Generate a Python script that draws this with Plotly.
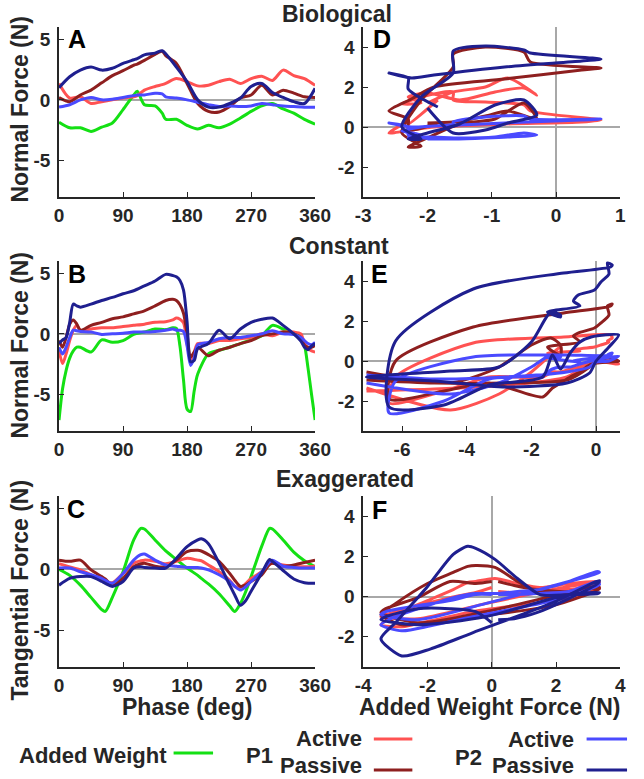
import plotly.graph_objects as go

W, H = 644, 779

# ---------------- Data ----------------
# Panel A (Biological, normal force vs phase)
phase_a = [0, 15, 30, 45, 60, 75, 90, 105, 110, 120, 135, 145, 150, 165, 180, 195, 210, 225, 240, 255, 270, 285, 300, 315, 330, 345, 360]
aw_a = [-1.84, -2.3, -2.3, -2.6, -2.25, -1.9, -0.8, 0.4, 0.7, -0.4, -0.5, -1.1, -1.6, -1.6, -2.1, -2.4, -2.1, -2.3, -2.0, -1.5, -0.95, -0.5, -0.3, -0.75, -1.1, -1.6, -2.0]
p1_act_a = [1.35, 0.15, 0.25, -0.3, -0.15, 0.0, 0.15, 0.25, 0.35, 0.8, 1.1, 1.25, 1.35, 1.75, 1.5, 1.15, 1.2, 1.5, 1.7, 1.35, 1.75, 1.95, 1.6, 2.45, 2.0, 1.75, 1.2]
p1_pas_a = [0.2, -0.15, 0.4, 0.8, 1.4, 2.0, 2.4, 2.85, 2.95, 3.25, 3.75, 4.0, 3.65, 3.0, 1.35, -0.3, -0.95, -1.0, -0.55, 0.15, 0.4, 1.2, 0.4, 0.8, 0.55, 0.25, 0.2]
p2_act_a = [-0.6, -0.4, 0.0, 0.2, 0.0, 0.05, 0.2, 0.35, 0.4, 0.4, 0.55, 0.5, 0.25, 0.15, 0.0, -0.2, -0.4, -0.55, -0.5, -0.55, -0.5, -0.3, -0.4, -0.5, -0.55, -0.6, -0.6]
p2_pas_a = [1.0, 1.9, 2.45, 2.7, 2.45, 2.6, 3.0, 3.3, 3.4, 3.7, 3.85, 4.05, 3.8, 2.7, 1.5, 0.0, -0.6, -0.6, -0.3, 0.15, 1.1, 1.35, 0.6, 0.2, -0.15, -0.3, 0.95]

# Panel B (Constant, normal force vs phase)
phase_b = [0, 5, 10, 15, 20, 25, 30, 45, 60, 75, 90, 105, 120, 135, 150, 160, 165, 170, 175, 180, 185, 190, 195, 210, 225, 240, 255, 270, 285, 300, 315, 330, 340, 345, 350, 355, 360]
aw_b = [-7.1, -4.5, -3.0, -2.0, -1.4, -1.1, -1.1, -1.5, -0.5, -0.7, -0.55, -0.05, 0.15, 0.4, 0.35, 0.5, 0.45, -1.0, -3.8, -6.2, -6.4, -4.7, -3.3, -1.65, -1.35, -1.1, -0.8, -0.5, -0.15, 0.7, 0.4, 0.0, -0.2, -0.9, -2.8, -5.0, -7.1]
p1_act_b = [-1.35, -2.45, -1.65, -0.55, 0.3, 0.7, 0.3, 0.4, 0.5, 0.5, 0.6, 0.7, 0.8, 0.95, 1.0, 1.15, 1.3, 1.2, 0.9, -0.8, -2.1, -1.5, -0.8, -0.8, -0.55, -0.55, -0.4, -0.3, 0.0, -0.15, 0.15, 0.15, 0.0, -0.8, -1.2, -1.4, -1.5]
p1_pas_b = [-0.55, -1.1, -0.3, 0.8, 1.15, 0.8, 0.3, 0.7, 0.95, 1.25, 1.4, 1.65, 1.9, 2.3, 2.75, 2.85, 2.75, 2.4, 1.7, 0.0, -1.9, -1.5, -1.1, -1.8, -1.35, -1.1, -0.8, -0.55, -0.15, 0.0, 0.15, 0.0, -0.3, -0.95, -1.1, -1.1, -0.95]
p2_act_b = [-1.1, -1.65, -1.1, -0.3, 0.3, 0.25, 0.2, 0.15, -0.05, 0.0, 0.05, 0.15, 0.15, 0.2, 0.3, 0.4, 0.3, 0.3, 0.2, -1.0, -2.6, -2.0, -0.9, -0.7, -0.4, -0.3, -0.3, -0.15, 0.0, 0.25, 0.0, -0.05, -0.3, -0.55, -0.8, -0.9, -0.7]
p2_pas_b = [-0.8, -0.5, -0.3, 0.95, 2.45, 2.3, 2.2, 2.45, 2.75, 3.0, 3.3, 3.55, 3.95, 4.35, 4.9, 4.8, 4.7, 4.4, 3.6, 1.0, -2.3, -2.2, -1.2, -0.8, 0.3, -0.4, 0.4, 0.95, 1.2, 1.3, 0.7, 0.0, -0.6, -1.1, -1.3, -1.0, -0.8]

# Panel C (Exaggerated, tangential force vs phase)
phase_c = [0, 15, 30, 45, 60, 65, 75, 90, 105, 115, 120, 135, 150, 165, 180, 195, 200, 210, 225, 240, 247, 255, 262, 270, 285, 296, 300, 315, 330, 345, 360]
aw_c = [0.0, -0.5, -1.3, -2.3, -3.3, -3.45, -2.3, -0.2, 2.4, 3.35, 3.3, 2.4, 1.5, 0.8, 0.1, -0.5, -0.75, -1.2, -2.0, -3.0, -3.45, -2.8, -1.9, -0.6, 1.9, 3.35, 3.3, 2.4, 1.4, 0.7, 0.2]
p1_act_c = [0.45, 0.2, -0.05, -0.45, -0.9, -1.0, -1.1, -0.35, 0.5, 0.7, 0.75, 0.65, 0.45, 0.65, 0.9, 0.75, 0.7, 0.35, -0.2, -0.9, -1.4, -1.5, -1.2, -0.75, -0.2, 0.4, 0.5, 0.35, 0.25, 0.2, 0.25]
p1_pas_c = [0.75, 0.65, 0.75, -0.05, -0.6, -0.8, -1.3, -0.75, 0.2, 0.45, 0.5, 0.25, 0.2, 0.75, 1.45, 1.55, 1.5, 1.2, 0.65, -0.35, -0.9, -1.4, -1.3, -1.0, -0.45, 0.4, 0.5, 0.25, 0.35, 0.55, 0.75]
p2_act_c = [0.1, 0.1, -0.2, -0.45, -0.75, -0.9, -1.15, -0.35, 0.75, 1.2, 1.25, 0.75, 0.35, 0.25, 0.15, 0.15, 0.1, -0.05, -0.45, -1.0, -1.4, -1.7, -1.45, -1.0, -0.2, 0.6, 0.75, 0.25, 0.15, 0.1, 0.1]
p2_pas_c = [-1.3, -0.75, -0.6, -0.6, -1.0, -1.15, -1.4, -1.0, 0.1, 0.2, 0.15, 0.1, 0.1, 0.9, 1.85, 2.4, 2.5, 2.1, 0.5, -1.3, -2.1, -2.95, -2.6, -1.8, -0.3, 0.8, 0.65, -0.1, -0.8, -1.1, -1.15]

row_titles = ["Biological", "Constant", "Exaggerated"]
panel_letters = ["A", "B", "C", "D", "E", "F"]
phase_ticks = [0, 90, 180, 270, 360]
force_ticks = [-5, 0, 5]
small_force_ticks = [-2, 0, 2, 4]
aw_ticks_d = [-3, -2, -1, 0, 1]
aw_ticks_e = [-6, -4, -2, 0]
aw_ticks_f = [-4, -2, 0, 2, 4]

# ---------------- Style ----------------
C_AW = "#14e014"
C_P1A = "#ff5252"
C_P1P = "#8e1f1f"
C_P2A = "#4a4aff"
C_P2P = "#1f1f8f"
TXT = "#262626"
FONT = "Liberation Sans, Arial, sans-serif"
LW = 3
TS = 23   # titles
LS = 22   # legend text


def px(x):
    return x / W


def py(y):
    return 1 - y / H


def labels(vals):
    return [str(v) for v in vals]


fig = go.Figure()

left_dom = [px(53), px(319)]
right_dom = [px(369), px(636)]
rows = [(27, 197), (261, 431), (496, 667)]

datasets = [
    (phase_a, aw_a, p1_act_a, p1_pas_a, p2_act_a, p2_pas_a),
    (phase_b, aw_b, p1_act_b, p1_pas_b, p2_act_b, p2_pas_b),
    (phase_c, aw_c, p1_act_c, p1_pas_c, p2_act_c, p2_pas_c),
]
right_ranges = [([-3, 1], aw_ticks_d), ([-7.2, 0.75], aw_ticks_e), ([-4, 4], aw_ticks_f)]

base_axis = dict(showline=True, linecolor=TXT, linewidth=1.6, ticks="inside", ticklen=5,
                 tickcolor=TXT, tickwidth=1.2, showgrid=False,
                 tickfont=dict(family=FONT, size=19, color=TXT, weight="bold"),
                 zerolinecolor="#a8a8a8", zerolinewidth=1.5, mirror=False, fixedrange=True)

for r, (ph, aw, a1, p1, a2, p2) in enumerate(datasets):
    li = 2 * r + 1   # left axis index
    ri = 2 * r + 2   # right axis index
    y0, y1 = rows[r]
    ydom = [py(y1), py(y0)]
    lx = "x" if li == 1 else f"x{li}"
    ly = "y" if li == 1 else f"y{li}"
    rx = f"x{ri}"
    ry = f"y{ri}"
    # force vs phase
    for ys, col in [(aw, C_AW), (a1, C_P1A), (p1, C_P1P), (a2, C_P2A), (p2, C_P2P)]:
        fig.add_trace(go.Scatter(x=ph, y=ys, mode="lines", xaxis=lx, yaxis=ly,
                                 line=dict(color=col, width=LW, shape="spline", smoothing=0.8),
                                 showlegend=False, hoverinfo="skip"))
    # force vs added weight force
    for ys, col in [(a1, C_P1A), (p1, C_P1P), (a2, C_P2A), (p2, C_P2P)]:
        fig.add_trace(go.Scatter(x=aw, y=ys, mode="lines", xaxis=rx, yaxis=ry,
                                 line=dict(color=col, width=LW, shape="spline", smoothing=0.7),
                                 showlegend=False, hoverinfo="skip"))
    lkey = "xaxis" if li == 1 else f"xaxis{li}"
    lykey = "yaxis" if li == 1 else f"yaxis{li}"
    fig.layout[lkey] = dict(base_axis, domain=left_dom, range=[0, 360], tickvals=phase_ticks,
                            ticktext=labels(phase_ticks), zeroline=False, anchor=ly)
    fig.layout[lykey] = dict(base_axis, domain=ydom, range=[-8, 6], tickvals=force_ticks,
                             ticktext=labels(force_ticks), zeroline=True, anchor=lx,
                             ticklabelstandoff=3)
    rr, rt = right_ranges[r]
    fig.layout[f"xaxis{ri}"] = dict(base_axis, domain=right_dom, range=rr, tickvals=rt,
                                    ticktext=labels(rt), zeroline=True, anchor=ry)
    fig.layout[f"yaxis{ri}"] = dict(base_axis, domain=ydom, range=[-3.5, 5],
                                    tickvals=small_force_ticks, ticktext=labels(small_force_ticks),
                                    zeroline=True, anchor=rx, ticklabelstandoff=3)

ann = []


def text(t, x, y, size=TS, xanchor="center", yanchor="middle", angle=0, color=TXT):
    ann.append(dict(text=t, x=px(x), y=py(y), xref="paper", yref="paper", showarrow=False,
                    xanchor=xanchor, yanchor=yanchor, textangle=angle, borderpad=0,
                    font=dict(family=FONT, size=size, color=color, weight="bold")))


# Row titles
text(row_titles[0], 342, 0, yanchor="top")
text(row_titles[1], 344, 246)
text(row_titles[2], 350, 479)
# Axis titles
text("Normal Force (N)", 12, 109, angle=-90)
text("Normal Force (N)", 12, 345, angle=-90)
text("Tangential Force (N)", 12, 590, angle=-90)
text("Phase (deg)", 186, 707)
text("Added Weight Force (N)", 501, 707)
# Panel letters
for lab, (x, y) in zip(panel_letters, [(72, 39), (72, 274), (71, 509), (388, 39), (386, 274), (386, 510)]):
    text(lab, x, y, size=25, color="black")
# Legend text
text("Added Weight", 88, 755, size=LS)
text("P1", 261, 755, size=LS)
text("Active", 369, 738, xanchor="right", size=LS)
text("Passive", 369, 779, xanchor="right", yanchor="bottom", size=LS)
text("P2", 478, 757, size=LS)
text("Active", 589, 739, xanchor="right", size=LS)
text("Passive", 589, 779, xanchor="right", yanchor="bottom", size=LS)

shapes = []
for (x0, x1, y, col) in [(172, 213, 753, C_AW), (380, 420, 739, C_P1A), (380, 420, 770, C_P1P),
                         (601, 643, 739, C_P2A), (601, 643, 770, C_P2P)]:
    shapes.append(dict(type="line", xref="paper", yref="paper", x0=px(x0), x1=px(x1),
                       y0=py(y), y1=py(y), line=dict(color=col, width=LW)))

fig.update_layout(width=W, height=H, margin=dict(l=0, r=0, t=0, b=0),
                  paper_bgcolor="white", plot_bgcolor="white",
                  annotations=ann, shapes=shapes, showlegend=False)

fig.write_html("out.html")
